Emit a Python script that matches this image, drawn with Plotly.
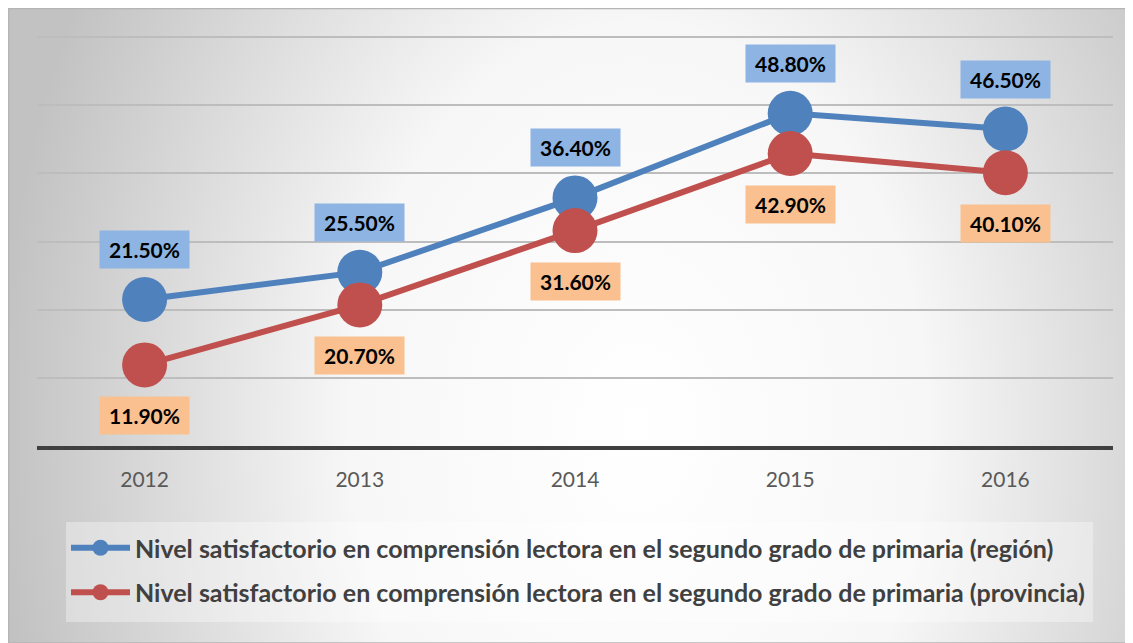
import base64
import plotly.graph_objects as go

years = ["2012", "2013", "2014", "2015", "2016"]
region = [21.5, 25.5, 36.4, 48.8, 46.5]
provincia = [11.9, 20.7, 31.6, 42.9, 40.1]
name_region = "Nivel satisfactorio en comprensión lectora en el segundo grado de primaria (región)"
name_prov = "Nivel satisfactorio en comprensión lectora en el segundo grado de primaria (provincia)"

BLUE = "#4F81BD"
RED = "#C0504D"
BLUE_BOX = "#8DB4E2"
ORANGE_BOX = "#FAC090"

# page offset of the figure (default body margin)
OFF = 8
W, H = 1133 - OFF, 643 - OFF
ML, MR, MT, MB = 37 - OFF, 1133 - 1113, 36 - OFF, 643 - 446
PW = W - ML - MR
PH = H - MT - MB

def px_x(px):
    return (px - OFF - ML) / PW

def px_y(py):
    return (H - MB - (py - OFF)) / PH

svg = (
    "<svg xmlns='http://www.w3.org/2000/svg' width='1125' height='635' viewBox='0 0 1125 635' "
    "preserveAspectRatio='none'><defs>"
    "<radialGradient id='g' gradientUnits='userSpaceOnUse' cx='0' cy='0' r='640' "
    "gradientTransform='translate(630,420) scale(1,1.4)'>"
    "<stop offset='0' stop-color='#FFFFFF'/>"
    "<stop offset='0.45' stop-color='#F7F7F7'/>"
    "<stop offset='1' stop-color='#C2C2C2'/>"
    "</radialGradient></defs>"
    "<rect x='0' y='0' width='1125' height='635' fill='url(#g)'/></svg>"
)
src = "data:image/svg+xml;base64," + base64.b64encode(svg.encode()).decode()

fig = go.Figure()
fig.add_trace(go.Scatter(
    x=years, y=region, name=name_region, mode="lines+markers",
    line=dict(color=BLUE, width=6), marker=dict(color=BLUE, size=45),
    legendgroup="a",
))
fig.add_trace(go.Scatter(
    x=years, y=provincia, name=name_prov, mode="lines+markers",
    line=dict(color=RED, width=6), marker=dict(color=RED, size=45),
    legendgroup="b",
))

label_font = dict(family="Lato", size=21, color="#000000", weight="bold")
annotations = []
for i, v in enumerate(region):
    annotations.append(dict(
        x=i, y=v, xref="x", yref="y", text=f"{v:.2f}%", showarrow=False,
        yshift=50, bgcolor=BLUE_BOX, font=label_font,
        width=79, height=27, borderpad=5,
    ))
for i, v in enumerate(provincia):
    annotations.append(dict(
        x=i, y=v, xref="x", yref="y", text=f"{v:.2f}%", showarrow=False,
        yshift=-51, bgcolor=ORANGE_BOX, font=label_font,
        width=79, height=27, borderpad=5,
    ))

fig.update_layout(
    width=W, height=H,
    margin=dict(l=ML, r=MR, t=MT, b=MB, autoexpand=False),
    paper_bgcolor="#FFFFFF",
    plot_bgcolor="rgba(0,0,0,0)",
    images=[dict(
        source=src, xref="paper", yref="paper",
        x=px_x(OFF), y=px_y(OFF), sizex=W / PW, sizey=H / PH,
        xanchor="left", yanchor="top", sizing="stretch", layer="below",
    )],
    shapes=[
        dict(
            type="rect", xref="paper", yref="paper",
            x0=px_x(OFF + 0.5), x1=px_x(1133), y0=px_y(643), y1=px_y(OFF + 0.5),
            line=dict(color="#B5B5B5", width=1.5), fillcolor="rgba(0,0,0,0)", layer="below",
        ),
        dict(
            type="rect", xref="paper", yref="paper",
            x0=px_x(66), x1=px_x(1093), y0=px_y(622), y1=px_y(522),
            line=dict(width=0), fillcolor="rgba(255,255,255,0.35)", layer="below",
        ),
    ],
    annotations=annotations,
    xaxis=dict(
        type="category", range=[-0.5, 4.5], showgrid=False, showline=True,
        linecolor="#404040", linewidth=4,
        ticks="", tickfont=dict(family="Lato", size=21, color="#595959"),
        ticklabelstandoff=12, zeroline=False, automargin=False,
    ),
    yaxis=dict(
        range=[0, 60.15], tickmode="linear", tick0=0, dtick=10,
        showticklabels=False, showgrid=True,
        gridcolor="#BDBDBD", gridwidth=2, zeroline=False, showline=False,
        automargin=False,
    ),
    showlegend=True,
    legend=dict(
        x=px_x(66), y=px_y(525), xanchor="left", yanchor="top",
        bgcolor="rgba(0,0,0,0)", borderwidth=0,
        font=dict(family="Lato", size=25, color="#404040", weight="bold"),
        traceorder="grouped", tracegroupgap=9, itemwidth=59,
    ),
    hovermode=False,
)

fig.write_html("out.html")
